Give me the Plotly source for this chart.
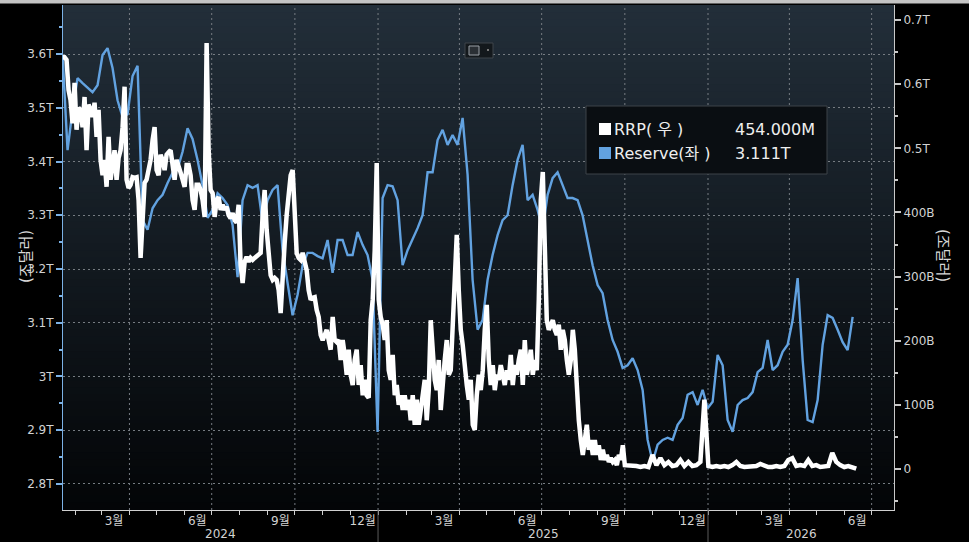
import pandas as pd
import plotly.graph_objects as go

# ---------------- data ----------------
reserve_start, reserve_end = "2024-01-18", "2026-06-10"
reserve_values = [  # trillions USD (left axis)
    3.598, 3.421, 3.496, 3.555, 3.546, 3.537, 3.529, 3.542, 3.598, 3.611,
    3.574, 3.514, 3.483, 3.488, 3.559, 3.578, 3.291, 3.273, 3.313, 3.328,
    3.338, 3.360, 3.379, 3.386, 3.418, 3.462, 3.442, 3.403, 3.356, 3.295,
    3.310, 3.341, 3.332, 3.319, 3.282, 3.185, 3.328, 3.356, 3.351, 3.356,
    3.287, 3.328, 3.347, 3.356, 3.235, 3.174, 3.114, 3.152, 3.207, 3.230,
    3.230, 3.224, 3.220, 3.254, 3.193, 3.254, 3.254, 3.226, 3.226, 3.269,
    3.245, 3.226, 3.180, 2.897, 3.332, 3.356, 3.354, 3.328, 3.207, 3.235,
    3.254, 3.276, 3.300, 3.380, 3.380, 3.440, 3.459, 3.431, 3.449, 3.431,
    3.481, 3.375, 3.180, 3.087, 3.105, 3.180, 3.226, 3.263, 3.291, 3.300,
    3.356, 3.403, 3.431, 3.328, 3.338, 3.310, 3.273, 3.338, 3.369, 3.380,
    3.356, 3.332, 3.332, 3.328, 3.300, 3.254, 3.207, 3.170, 3.155, 3.105,
    3.068, 3.046, 3.016, 3.021, 3.034, 3.012, 2.975, 2.882, 2.841, 2.873,
    2.882, 2.886, 2.882, 2.910, 2.923, 2.966, 2.971, 2.947, 2.975, 2.941,
    2.953, 3.040, 3.021, 2.919, 2.897, 2.947, 2.956, 2.960, 2.971, 3.008,
    3.016, 3.068, 3.012, 3.021, 3.046, 3.059, 3.105, 3.183, 3.031, 2.919,
    2.915, 2.956, 3.059, 3.114, 3.109, 3.087, 3.064, 3.049, 3.111,
]

rrp_a_start, rrp_a_end = "2024-01-18", "2025-10-01"
rrp_a_values = [  # billions USD (right axis)
    642, 642, 638, 591, 575, 539, 602, 529, 563, 560,
    533, 580, 497, 568, 560, 549, 571, 518, 560, 482,
    458, 482, 440, 518, 451, 477, 497, 451, 485, 497,
    533, 596, 451, 438, 443, 455, 454, 455, 419, 329,
    396, 446, 451, 466, 482, 513, 533, 466, 458, 490,
    482, 466, 490, 494, 497, 474, 451, 482, 474, 462,
    451, 440, 474, 474, 458, 419, 404, 443, 443, 435,
    419, 393, 664, 497, 435, 430, 393, 419, 424, 404,
    412, 404, 409, 396, 391, 399, 388, 384, 412, 318,
    290, 323, 331, 323, 329, 326, 329, 331, 334, 337,
    396, 435, 373, 334, 302, 295, 298, 295, 279, 243,
    310, 352, 396, 427, 458, 466, 396, 337, 329, 326,
    337, 323, 310, 279, 264, 267, 268, 248, 237, 209,
    201, 209, 217, 201, 186, 237, 201, 198, 201, 170,
    201, 178, 147, 186, 147, 131, 170, 186, 131, 162,
    115, 139, 115, 111, 232, 264, 341, 477, 264, 237,
    225, 201, 232, 154, 139, 178, 115, 131, 100, 115,
    92, 115, 92, 108, 76, 115, 69, 108, 69, 92,
    115, 139, 76, 123, 232, 186, 139, 123, 170, 92,
    139, 170, 201, 147, 154, 232, 326, 365, 279, 217,
    193, 154, 131, 108, 139, 69, 61, 115, 147, 123,
    154, 217, 256, 170, 131, 162, 123, 147, 139, 162,
    147, 131, 154, 139, 178, 131, 162, 147, 170, 186,
    131, 201, 147, 162, 186, 147, 170, 154, 264, 419,
    463, 326, 232, 217, 225, 232, 217, 209, 225, 186,
    217, 201, 170, 147, 170, 217, 186, 123, 76, 45,
    22, 45, 69, 30, 45, 22, 45, 22, 37, 14,
    30, 14, 22, 11, 17, 11, 14, 6, 22, 14,
    37, 6,
]

rrp_b_start, rrp_b_end = "2025-10-05", "2026-06-14"
rrp_b_values = [
    6, 4.7, 4.7, 3.1, 4.7, 3.1, 22, 6, 17, 6,
    11, 4.7, 6, 14, 4.7, 11, 4.7, 6, 11, 108,
    4.7, 3.1, 4.7, 3.1, 4.7, 3.1, 6, 11, 4.7, 3.1,
    3.1, 4.7, 4.7, 7.8, 4.7, 3.1, 3.1, 4.7, 3.1, 4.7,
    14, 17, 4.7, 6, 4.7, 14, 4.7, 6, 3.1, 3.1,
    4.7, 25, 11, 6, 3.1, 4.7, 3.1, 0.454,
]

left_tickvals = [2.8, 2.9, 3.0, 3.1, 3.2, 3.3, 3.4, 3.5, 3.6]
left_ticktext = ["2.8T", "2.9T", "3T", "3.1T", "3.2T", "3.3T", "3.4T", "3.5T", "3.6T"]
right_tickvals = [0, 100, 200, 300, 400, 500, 600, 700]
right_ticktext = ["0", "100B", "200B", "300B", "400B", "0.5T", "0.6T", "0.7T"]

month_label_dates = ["2024-03-15", "2024-06-15", "2024-09-15", "2024-12-15",
                     "2025-03-15", "2025-06-15", "2025-09-15", "2025-12-15",
                     "2026-03-15", "2026-06-15"]
month_label_text = ["3월", "6월", "9월", "12월", "3월", "6월", "9월", "12월", "3월", "6월"]
quarter_dates = ["2024-04-01", "2024-07-01", "2024-10-01", "2025-01-01",
                 "2025-04-01", "2025-07-01", "2025-10-01", "2026-01-01",
                 "2026-04-01", "2026-07-01"]
year_bounds = ["2025-01-01", "2026-01-01"]
year_labels = ["2024", "2025", "2026"]

x_range = [pd.Timestamp("2024-01-18 12:00"), pd.Timestamp("2026-07-25 18:00")]

# ---------------- layout helpers ----------------
W, H = 969, 542
ML, MR, MT, MB = 63, 75, 5, 32
PW, PH = W - ML - MR, H - MT - MB


def px(x):
    return (x - ML) / PW


def py(y):
    return (H - MB - y) / PH


FONT = "DejaVu Sans, Noto Sans CJK KR, sans-serif"
TICK_COLOR = "#d2d2d2"
BLUE = "#62a2e0"
GRID = "#767c82"

reserve_dates = pd.date_range(reserve_start, reserve_end, periods=len(reserve_values))
rrp_dates = pd.date_range(rrp_a_start, rrp_a_end, periods=len(rrp_a_values)).append(
    pd.date_range(rrp_b_start, rrp_b_end, periods=len(rrp_b_values)))
rrp_values = rrp_a_values + rrp_b_values

fig = go.Figure()
fig.add_trace(go.Scatter(x=reserve_dates, y=reserve_values, mode="lines",
                         line=dict(color=BLUE, width=2.4), yaxis="y", name="Reserve(좌)"))
fig.add_trace(go.Scatter(x=rrp_dates, y=rrp_values, mode="lines",
                         line=dict(color="#ffffff", width=4.5), yaxis="y2", name="RRP(우)"))

shapes = []
# gradient plot background
top, bot = (34, 46, 57), (3, 5, 7)
N = 70
for i in range(N):
    t = i / (N - 1)
    c = tuple(round(top[k] + (bot[k] - top[k]) * t) for k in range(3))
    shapes.append(dict(type="rect", xref="paper", yref="paper", x0=0, x1=1,
                       y0=max(0, 1 - (i + 1) / N - 0.002), y1=1 - i / N,
                       fillcolor="rgb(%d,%d,%d)" % c, line=dict(width=0), layer="below"))
# vertical quarter gridlines
for d in quarter_dates:
    shapes.append(dict(type="line", xref="x", yref="paper", x0=d, x1=d, y0=0, y1=1,
                       line=dict(color=GRID, width=1, dash="2px,3px"), layer="below"))
# year separators below axis
for d in year_bounds:
    shapes.append(dict(type="line", xref="x", yref="paper", x0=d, x1=d, y0=0, y1=py(H),
                       line=dict(color="#5a5a5a", width=1)))
# top grey strip
shapes.append(dict(type="rect", xref="paper", yref="paper", x0=px(0), x1=px(W),
                   y0=py(3.5), y1=py(0), fillcolor="#c4c4c4", line=dict(width=0)))
# small icon box
shapes.append(dict(type="rect", xref="paper", yref="paper", x0=px(465), x1=px(493),
                   y0=py(58), y1=py(43), fillcolor="#13181c", line=dict(color="#3e444a", width=1)))
shapes.append(dict(type="rect", xref="paper", yref="paper", x0=px(469), x1=px(479),
                   y0=py(55), y1=py(46), fillcolor="#2a2f34", line=dict(color="#9aa0a6", width=1)))
shapes.append(dict(type="rect", xref="paper", yref="paper", x0=px(487), x1=px(489),
                   y0=py(51), y1=py(49), fillcolor="#777", line=dict(width=0)))
# legend box
shapes.append(dict(type="rect", xref="paper", yref="paper", x0=px(586), x1=px(827),
                   y0=py(174), y1=py(106), fillcolor="#0a0e12", line=dict(color="#3d4248", width=1)))
shapes.append(dict(type="rect", xref="paper", yref="paper", x0=px(599), x1=px(611),
                   y0=py(135), y1=py(123), fillcolor="#ffffff", line=dict(width=0)))
shapes.append(dict(type="rect", xref="paper", yref="paper", x0=px(599), x1=px(611),
                   y0=py(159), y1=py(147), fillcolor=BLUE, line=dict(width=0)))

annotations = []
leg_font = dict(family=FONT, size=16, color="#eeeeee")
annotations.append(dict(xref="paper", yref="paper", x=px(612), y=py(129), text="RRP( 우 )",
                        showarrow=False, xanchor="left", yanchor="middle", font=leg_font))
annotations.append(dict(xref="paper", yref="paper", x=px(733), y=py(129),
                        text="%.3fM" % (rrp_values[-1] * 1000),
                        showarrow=False, xanchor="left", yanchor="middle", font=leg_font))
annotations.append(dict(xref="paper", yref="paper", x=px(612), y=py(153), text="Reserve(좌 )",
                        showarrow=False, xanchor="left", yanchor="middle", font=leg_font))
annotations.append(dict(xref="paper", yref="paper", x=px(733), y=py(153),
                        text="%.3fT" % reserve_values[-1],
                        showarrow=False, xanchor="left", yanchor="middle", font=leg_font))
# axis titles
annotations.append(dict(xref="paper", yref="paper", x=px(15), y=py(257), text="(조달러)",
                        textangle=-90, showarrow=False,
                        font=dict(family=FONT, size=15, color="#d8d8d8")))
annotations.append(dict(xref="paper", yref="paper", x=px(954), y=py(256), text="(조달러)",
                        textangle=90, showarrow=False,
                        font=dict(family=FONT, size=15, color="#d8d8d8")))
# year labels centred on visible span of each year
edges = [x_range[0]] + [pd.Timestamp(d) for d in year_bounds] + [x_range[1]]
for lab, a, b in zip(year_labels, edges[:-1], edges[1:]):
    annotations.append(dict(xref="x", yref="paper", x=a + (b - a) / 2, y=py(534), text=lab,
                            showarrow=False, yanchor="middle",
                            font=dict(family=FONT, size=12, color=TICK_COLOR)))

fig.update_layout(
    width=W, height=H,
    margin=dict(l=ML, r=MR, t=MT, b=MB, pad=0),
    paper_bgcolor="#000000", plot_bgcolor="rgba(0,0,0,0)",
    showlegend=False,
    font=dict(family=FONT, size=12, color=TICK_COLOR),
    shapes=shapes, annotations=annotations,
    xaxis=dict(type="date", range=x_range, tickmode="array", tickvals=month_label_dates,
               ticktext=month_label_text, ticks="", showgrid=False, zeroline=False,
               showline=True, linecolor="#d0d0d0", linewidth=1,
               tickfont=dict(family=FONT, size=12, color=TICK_COLOR),
               minor=dict(tickmode="linear", tick0="2024-01-01", dtick="M1", ticks="outside",
                          ticklen=4, tickcolor="#d0d0d0", tickwidth=1, showgrid=False)),
    yaxis=dict(range=[2.7516, 3.6912], tickmode="array", tickvals=left_tickvals,
               ticktext=left_ticktext, showgrid=True, gridcolor=GRID, griddash="2px,3px",
               gridwidth=1, zeroline=False, showline=True, linecolor="#7cb2e6", linewidth=1,
               ticks="outside", ticklen=6, tickwidth=2, tickcolor="#7cb2e6",
               tickfont=dict(family=FONT, size=12, color=TICK_COLOR),
               minor=dict(tickmode="linear", tick0=2.8, dtick=0.05, ticks="outside",
                          ticklen=3, tickcolor="#7cb2e6", showgrid=False)),
    yaxis2=dict(range=[-63.9, 723.4], overlaying="y", side="right", tickmode="array",
                tickvals=right_tickvals, ticktext=right_ticktext, showgrid=False,
                zeroline=False, showline=True, linecolor="#c8c8c8", linewidth=1,
                ticks="outside", ticklen=6, tickwidth=2, tickcolor="#c8c8c8",
                tickfont=dict(family=FONT, size=12, color=TICK_COLOR),
                minor=dict(tickmode="linear", tick0=0, dtick=50, ticks="outside",
                           ticklen=3, tickcolor="#c8c8c8", showgrid=False)),
)

fig.write_html("out.html", config={"displayModeBar": False},
               post_script="document.body.style.margin='0';document.body.style.background='#000';")
